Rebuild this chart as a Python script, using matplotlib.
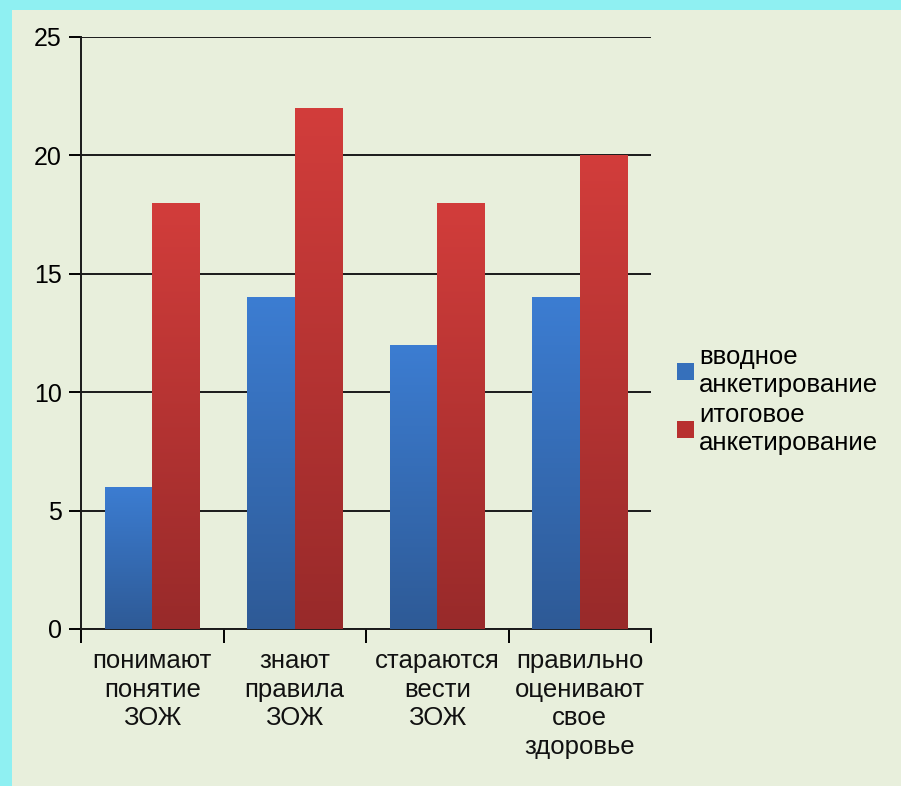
import matplotlib.pyplot as plt
import numpy as np
from matplotlib.patches import Rectangle
from matplotlib.colors import LinearSegmentedColormap

plt.rcParams['font.family'] = ['Liberation Sans', 'DejaVu Sans']

categories = ['понимают\nпонятие\nЗОЖ', 'знают\nправила\nЗОЖ',
              'стараются\nвести\nЗОЖ', 'правильно\nоценивают\nсвое\nздоровье']
vvodnoe = [6, 14, 12, 14]
itogovoe = [18, 22, 18, 20]
series_names = ['вводное\nанкетирование', 'итоговое\nанкетирование']

fig = plt.figure(figsize=(9.01, 7.86), dpi=100)
fig.patch.set_facecolor('#8ff0f2')
# light panel behind the chart
fig.patches.append(Rectangle((12 / 901, 0), 1, 776 / 786, transform=fig.transFigure,
                             facecolor='#e8efdc', edgecolor='none', zorder=-1))

ax = fig.add_axes([81 / 901, 157 / 786, 570 / 901, 592 / 786])
ax.set_facecolor('none')
ax.set_zorder(2)

blue_cmap = LinearSegmentedColormap.from_list('b', ['#2e5a96', '#3c7dd2'])
red_cmap = LinearSegmentedColormap.from_list('r', ['#982a2a', '#d23d3b'])

x = np.arange(len(categories))
w = 1 / 3
grad = np.linspace(0, 1, 256).reshape(-1, 1)

for vals, off, cmap in [(vvodnoe, -w / 2, blue_cmap), (itogovoe, w / 2, red_cmap)]:
    bars = ax.bar(x + off, vals, width=w, color='none', edgecolor='none', zorder=3)
    for b in bars:
        x0 = b.get_x()
        h = b.get_height()
        im = ax.imshow(grad, cmap=cmap, origin='lower', aspect='auto',
                       extent=(x0, x0 + w, 0, h), zorder=3)
        im.set_clip_path(b)

ax.set_xlim(-0.5, len(categories) - 0.5)
ax.set_ylim(0, 25)
ax.set_yticks([0, 5, 10, 15, 20, 25])
ax.grid(axis='y', color='#1a1a1a', linewidth=1.4, zorder=1)
ax.set_axisbelow(True)

for s in ['right', 'top']:
    ax.spines[s].set_visible(False)
ax.spines['left'].set_linewidth(1.4)
ax.spines['bottom'].set_linewidth(1.4)
ax.spines['left'].set_color('#1a1a1a')
ax.spines['bottom'].set_color('#1a1a1a')

ax.set_xticks(np.arange(len(categories) + 1) - 0.5, minor=False)
ax.set_xticklabels([])
ax.tick_params(axis='x', length=10, width=1.4, direction='out')
ax.tick_params(axis='y', length=9, width=1.4, labelsize=18, pad=5)
for i, lab in enumerate(categories):
    ax.text(i, -0.85, lab, ha='center', va='top', fontsize=18.5,
            linespacing=1.24, color='#111111', transform=ax.transData)

# legend
handles = [Rectangle((0, 0), 1, 1, facecolor='#3670bb'),
           Rectangle((0, 0), 1, 1, facecolor='#b8302f')]
ax.legend(handles, series_names, loc='center left', bbox_to_anchor=(1.046, 0.387),
          frameon=False, fontsize=18.5, handlelength=0.65, handleheight=0.65,
          handletextpad=0.2, labelspacing=0.25, borderaxespad=0, borderpad=0)

plt.savefig('out.png', dpi=100, facecolor=fig.get_facecolor())
